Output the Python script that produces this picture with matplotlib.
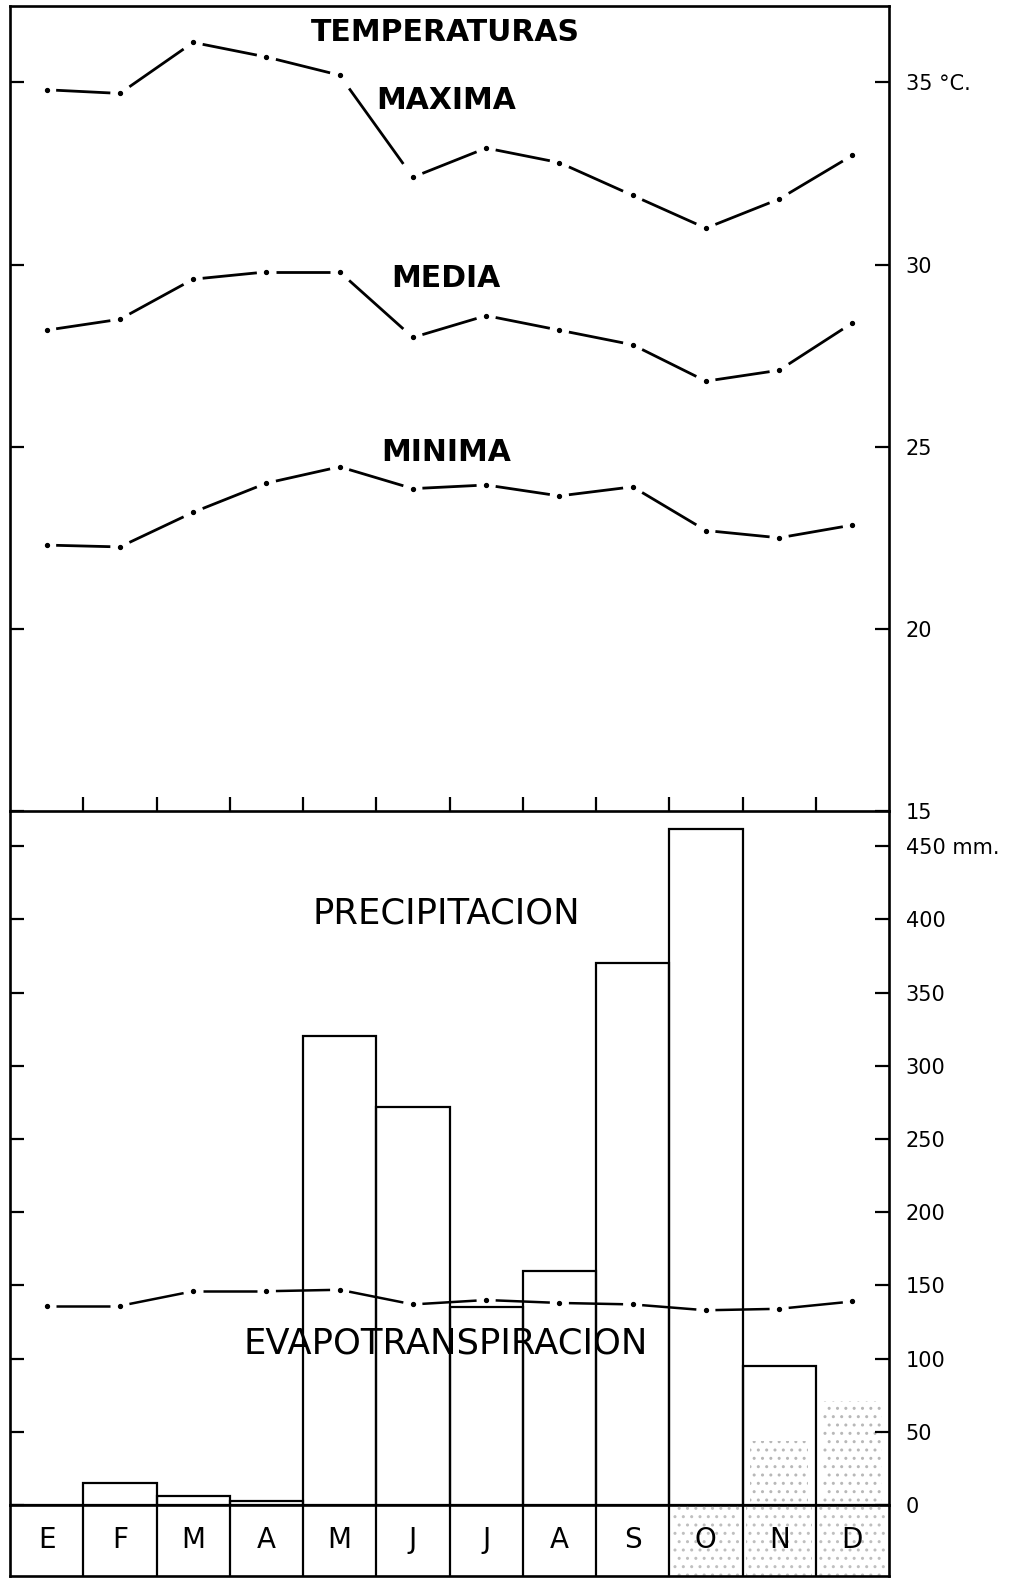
import numpy as np
import matplotlib
matplotlib.use("Agg")
import matplotlib.pyplot as plt

# Monthly climate record (Spanish month initials, January first)
months = ["E", "F", "M", "A", "M", "J", "J", "A", "S", "O", "N", "D"]

t_max = [34.8, 34.7, 36.1, 35.7, 35.2, 32.4, 33.2, 32.8, 31.9, 31.0, 31.8, 33.0]
t_mean = [28.2, 28.5, 29.6, 29.8, 29.8, 28.0, 28.6, 28.2, 27.8, 26.8, 27.1, 28.4]
t_min = [22.3, 22.25, 23.2, 24.0, 24.45, 23.85, 23.95, 23.65, 23.9, 22.7, 22.5, 22.85]

precip = [0, 15, 6, 3, 320, 272, 135, 160, 370, 462, 95, 0]
evapo = [136, 136, 146, 146, 147, 137, 140, 138, 137, 133, 134, 139]

# stippled water-deficit area at the end of the year (mm)
deficit = [0, 0, 0, 0, 0, 0, 0, 0, 0, 0, 44, 71]
stippled_months = [9, 10, 11]

temp_ticks = [15, 20, 25, 30, 35]
temp_labels = ["15", "20", "25", "30", "35 °C."]
rain_ticks = [0, 50, 100, 150, 200, 250, 300, 350, 400, 450]
rain_labels = ["0", "50", "100", "150", "200", "250", "300", "350", "400", "450 mm."]

W, H = 1024, 1579
LW_SPINE = 1.9
FONT = "DejaVu Sans"


def dash_dot(ax, y, lw=2.0, gap=0.13):
    """Solid segments broken just before every monthly point, with a dot on it."""
    x = np.arange(len(y))
    y = np.asarray(y, dtype=float)
    for i in range(len(y) - 1):
        dy = y[i + 1] - y[i]
        ax.plot([x[i] + gap, x[i + 1] - gap], [y[i] + gap * dy, y[i + 1] - gap * dy],
                color="k", lw=lw, solid_capstyle="butt", zorder=4)
    ax.plot(x, y, "o", color="k", ms=2.8, zorder=5)


def frame(ax):
    ax.patch.set_visible(False)
    for s in ax.spines.values():
        s.set_linewidth(LW_SPINE)
        s.set_color("k")
    ax.set_xlim(-0.5, len(months) - 0.5)


fig = plt.figure(figsize=(W / 100, H / 100), dpi=100)
left = 10 / W
width = (889 - 10) / W

ax_t = fig.add_axes([left, 1 - 811 / H, width, (811 - 6) / H])
ax_p = fig.add_axes([left, 1 - 1505 / H, width, (1505 - 811) / H])
ax_m = fig.add_axes([left, 1 - 1576 / H, width, (1576 - 1505) / H])

# --- temperatures ---
frame(ax_t)
ax_t.set_ylim(15, 37.1)
dash_dot(ax_t, t_max)
dash_dot(ax_t, t_mean)
dash_dot(ax_t, t_min)
ax_t.set_yticks(temp_ticks)
ax_t.set_yticklabels(temp_labels)
ax_t.set_xticks(np.arange(0.5, len(months) - 1, 1.0))
ax_t.tick_params(axis="x", direction="in", length=10, width=1.6, labelbottom=False)
ax_t.tick_params(axis="y", direction="in", length=10, width=1.6, left=True, right=True,
                 labelleft=False, labelright=True, pad=12, labelsize=15)

title_kw = dict(ha="center", va="center", fontsize=21.5, fontweight="bold", family=FONT)
ax_t.text(5.45, 36.37, "TEMPERATURAS", **title_kw)
ax_t.text(5.45, 34.5, "MAXIMA", **title_kw)
ax_t.text(5.45, 29.63, "MEDIA", **title_kw)
ax_t.text(5.45, 24.85, "MINIMA", **title_kw)

# --- precipitation and evapotranspiration ---
frame(ax_p)
ax_p.spines["top"].set_visible(False)
ax_p.set_ylim(0, 474)
x = np.arange(len(months))
ax_p.bar(x, deficit, width=0.8, fill=False, hatch="..", edgecolor="0.72", lw=0, zorder=1)
ax_p.bar(x, precip, width=1.0, fill=False, edgecolor="k", lw=1.6, zorder=3)
dash_dot(ax_p, evapo, lw=1.8)
ax_p.set_yticks(rain_ticks)
ax_p.set_yticklabels(rain_labels)
ax_p.set_xticks([])
ax_p.tick_params(axis="y", direction="in", length=10, width=1.6, left=True, right=True,
                 labelleft=False, labelright=True, pad=12, labelsize=15)
ax_p.text(5.45, 404, "PRECIPITACION", ha="center", va="center", fontsize=25.5, family=FONT)
ax_p.text(5.45, 110, "EVAPOTRANSPIRACION", ha="center", va="center", fontsize=25.5, family=FONT)

# --- month boxes ---
frame(ax_m)
ax_m.spines["top"].set_visible(False)
ax_m.set_ylim(0, 1)
ax_m.set_xticks([])
ax_m.set_yticks([])
ax_m.bar(stippled_months, [1] * len(stippled_months), width=0.9, bottom=0,
         fill=False, hatch="..", edgecolor="0.75", lw=0, zorder=1)
ax_m.vlines(np.arange(0.5, len(months) - 1, 1.0), 0, 1, color="k", lw=1.6, zorder=3)
for i, m in enumerate(months):
    ax_m.text(i, 0.5, m, ha="center", va="center", fontsize=20, family=FONT, zorder=4)

fig.savefig("out.png", dpi=100)
plt.close(fig)
